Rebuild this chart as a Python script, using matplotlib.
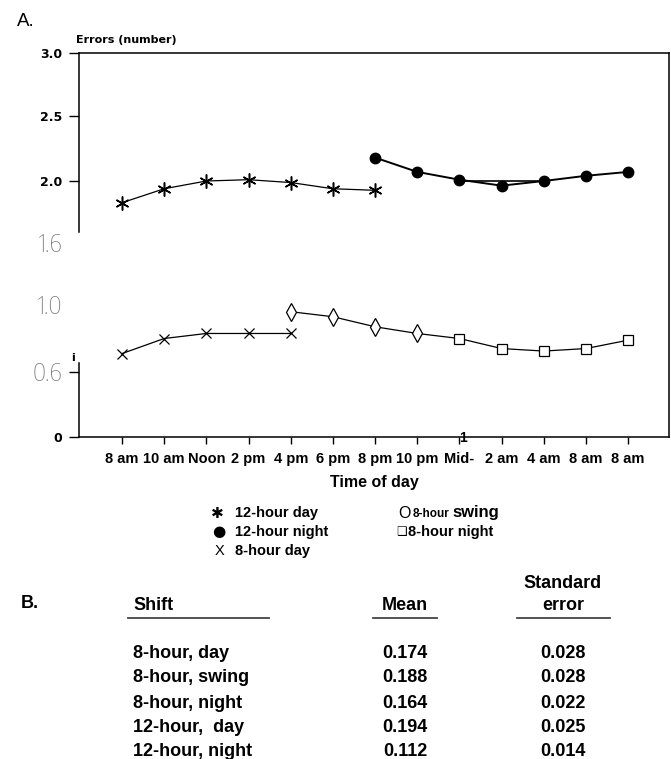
import numpy as np
import matplotlib
matplotlib.use("Agg")
import matplotlib.pyplot as plt
from matplotlib import font_manager
from matplotlib.font_manager import FontProperties

# time-of-day categories along the x axis
times = ["8 am", "10 am", "Noon", "2 pm", "4 pm", "6 pm", "8 pm",
         "10 pm", "Mid-", "2 am", "4 am", "8 am", "8 am"]

# errors per shift
day12_x = [0, 1, 2, 3, 4, 5, 6]
day12_y = [1.86, 1.95, 2.00, 2.01, 1.99, 1.95, 1.94]
night12_x = [6, 7, 8, 9, 10, 11, 12]
night12_y = [2.18, 2.07, 2.01, 1.97, 2.00, 2.04, 2.07]
night12_flat_x = [8, 10]
night12_flat_y = [2.00, 2.00]
day8_x = [0, 1, 2, 3, 4]
day8_y = [0.71, 0.80, 0.83, 0.83, 0.83]
swing8_x = [4, 5, 6, 7]
swing8_y = [0.96, 0.93, 0.87, 0.83]
night8_x = [8, 9, 10, 11, 12]
night8_y = [0.80, 0.74, 0.725, 0.74, 0.79]

# broken y axis: values and their (uneven) spacing on the page
y_vals = [0, 0.6, 1.0, 1.6, 2.0, 2.5, 3.0]
y_room = [0, 65, 132, 194, 256, 321, 384]
y_labels = ["0", "0.6", "1.0", "1.6", "2.0", "2.5", "3.0"]
faded = ["0.6", "1.0", "1.6"]

# table B
shifts = ["8-hour, day", "8-hour, swing", "8-hour, night", "12-hour,  day", "12-hour, night"]
means = ["0.174", "0.188", "0.164", "0.194", "0.112"]
std_errs = ["0.028", "0.028", "0.022", "0.025", "0.014"]

W, H = 671, 759
fig = plt.figure(figsize=(W / 100, H / 100), dpi=100)


def fx(px):
    return px / W


def fy(py):
    return 1 - py / H


def weight_num(w):
    if isinstance(w, (int, float)):
        return w
    return {"ultralight": 100, "light": 300, "normal": 400, "regular": 400,
            "book": 400, "medium": 500, "bold": 700}.get(str(w).lower(), 400)


# pick a condensed / narrow light face for the thin grey labels, if any
narrow_fp = None
cands = [f for f in font_manager.fontManager.ttflist
         if "condensed" in str(f.stretch) or "Narrow" in f.name
         or "Condensed" in f.name or "Condensed" in f.fname]
cands = [f for f in cands if f.style == "normal"]
if cands:
    cands.sort(key=lambda f: weight_num(f.weight))
    narrow_fp = cands[0].fname

SANS = "Liberation Sans"

ax = fig.add_axes([fx(79), fy(437), fx(669) - fx(79), (437 - 53) / H])


def fwd(v):
    return np.interp(v, y_vals, y_room)


def inv(p):
    return np.interp(p, y_room, y_vals)


ax.set_yscale("function", functions=(fwd, inv))
ax.set_ylim(0, 3.0)
ax.set_xlim(-1.02, 12.97)

lw = 0.9
ax.plot(day12_x, day12_y, color="black", lw=lw, marker=(6, 2, 0), ms=10, mew=1.1)
ax.plot(night12_x, night12_y, color="black", lw=1.4, marker="o", ms=7.5)
ax.plot(night12_flat_x, night12_flat_y, color="black", lw=1.2)
ax.plot(day8_x, day8_y, color="black", lw=lw, marker="x", ms=6.5, mew=0.9)
ax.plot(swing8_x + night8_x, swing8_y + night8_y, color="black", lw=lw)
ax.plot(swing8_x, swing8_y, ls="none", marker="d", ms=9, mfc="white", mec="black", mew=0.9)
ax.plot(night8_x, night8_y, ls="none", marker="s", ms=7, mfc="white", mec="black", mew=0.9)

# axes frame
ax.spines["left"].set_visible(False)
for s in ["top", "right", "bottom"]:
    ax.spines[s].set_linewidth(1.1)
yax = ax.get_yaxis_transform()
ax.plot([0, 0], [1.67, 3.0], color="black", lw=1.1, transform=yax, clip_on=False)
ax.plot([0, 0], [0, 0.654], color="black", lw=1.1, transform=yax, clip_on=False)

ax.set_xticks(range(len(times)))
ax.set_xticklabels(times, fontfamily=SANS, fontweight="bold", fontsize=10.5)
ax.tick_params(axis="x", direction="out", length=5, width=1, pad=6)
ax.set_xlabel("Time of day", fontfamily=SANS, fontweight="bold", fontsize=11.5, labelpad=6)

ax.set_yticks(y_vals)
ax.set_yticklabels(y_labels)
ax.tick_params(axis="y", direction="out", length=7, width=1, pad=5)
for tick, lab in zip(ax.yaxis.get_major_ticks(), y_labels):
    t = tick.label1
    if lab in faded:
        if narrow_fp:
            t.set_fontproperties(FontProperties(fname=narrow_fp, size=18))
        else:
            t.set_fontfamily("DejaVu Sans")
            t.set_fontsize(16)
        t.set_color("#808080")
        if lab != "0.6":
            tick.tick1line.set_visible(False)
    else:
        t.set_fontfamily("DejaVu Sans")
        t.set_fontweight("bold")
        t.set_fontsize(9)

# small scan marks
fig.text(fx(73), fy(358), "i", fontsize=8, fontweight="bold", ha="center", va="center")
fig.text(fx(463), fy(438), "1", fontsize=10, fontweight="bold", ha="center", va="center",
         fontfamily=SANS)

fig.text(fx(17), fy(22), "A.", fontsize=13.5, fontfamily=SANS, va="center")
fig.text(fx(76), fy(40), "Errors (number)", fontsize=8, fontweight="bold",
         fontfamily="DejaVu Sans", va="center")

# key
kf = dict(fontfamily=SANS, fontweight="bold", va="center")
fig.text(fx(211), fy(513), "✱", fontsize=11, fontfamily="DejaVu Sans", va="center")
fig.text(fx(235), fy(513), "12-hour day", fontsize=10.5, **kf)
fig.text(fx(212), fy(532), "●", fontsize=11, fontfamily="DejaVu Sans", va="center")
fig.text(fx(235), fy(532), "12-hour night", fontsize=10.5, **kf)
fig.text(fx(215), fy(551), "X", fontsize=10.5, fontfamily=SANS, va="center")
fig.text(fx(235), fy(551), "8-hour day", fontsize=10.5, **kf)
fig.text(fx(398), fy(513), "O", fontsize=11.5, fontfamily=SANS, va="center")
fig.text(fx(413), fy(514), "8-hour", fontsize=8.5, **kf)
fig.text(fx(452), fy(512), "swing", fontsize=12, **kf)
fig.text(fx(396), fy(532), "❑", fontsize=8.5, fontfamily="DejaVu Sans", va="center")
fig.text(fx(408), fy(532), "8-hour night", fontsize=10.5, **kf)

# table B
tf = dict(fontfamily=SANS, fontweight="bold", fontsize=13, va="center")
fig.text(fx(21), fy(603), "B.", **tf)
fig.text(fx(133), fy(606), "Shift", **tf)
fig.text(fx(405), fy(605), "Mean", ha="center", **tf)
fig.text(fx(563), fy(583), "Standard", ha="center", **tf)
fig.text(fx(563), fy(606), "error", ha="center", **tf)
for x0, x1 in [(128, 269), (373, 437), (517, 610)]:
    fig.add_artist(plt.Line2D([fx(x0), fx(x1)], [fy(618), fy(618)], color="#444444", lw=1.3))
row_y = [654, 678, 703, 727, 751]
for ry, s, m, e in zip(row_y, shifts, means, std_errs):
    fig.text(fx(133), fy(ry), s, **tf)
    fig.text(fx(405), fy(ry), m, ha="center", **tf)
    fig.text(fx(563), fy(ry), e, ha="center", **tf)

fig.savefig("out.png", dpi=100)
